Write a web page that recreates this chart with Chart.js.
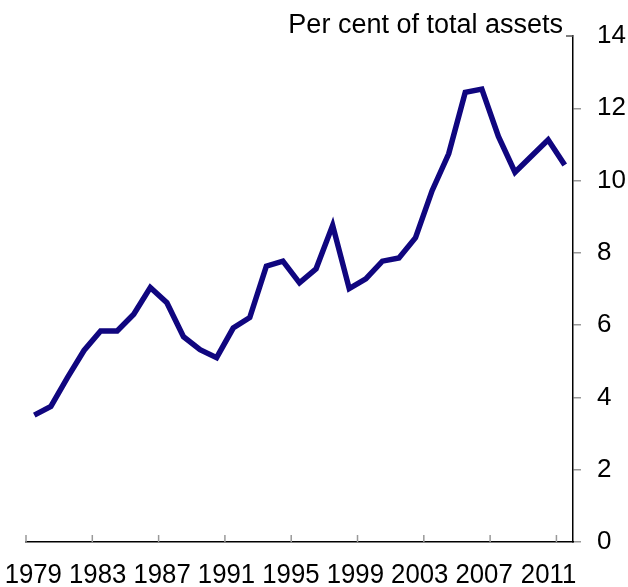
<!DOCTYPE html>
<html>
<head>
<meta charset="utf-8">
<script src="https://cdn.jsdelivr.net/npm/chart.js@4/dist/chart.umd.min.js"></script>
<style>
  html, body { margin: 0; padding: 0; background: #fff; }
  canvas { display: block; }
</style>
</head>
<body>
<canvas id="assetsChart" width="628" height="587"></canvas>
<script>
const years = ['1979', '1980', '1981', '1982', '1983', '1984', '1985', '1986', '1987', '1988', '1989',
  '1990', '1991', '1992', '1993', '1994', '1995', '1996', '1997', '1998', '1999', '2000',
  '2001', '2002', '2003', '2004', '2005', '2006', '2007', '2008', '2009', '2010', '2011'];
const shareOfAssets = [3.51, 3.75, 4.55, 5.30, 5.84, 5.84, 6.30, 7.04, 6.62, 5.68, 5.32,
  5.10, 5.92, 6.21, 7.63, 7.77, 7.17, 7.56, 8.76, 7.01, 7.28, 7.77,
  7.86, 8.42, 9.72, 10.74, 12.44, 12.53, 11.22, 10.23, 10.68, 11.13, 10.43];
const xTickLabels = ['1979', '1983', '1987', '1991', '1995', '1999', '2003', '2007', '2011'];
const yTicks = [0, 2, 4, 6, 8, 10, 12, 14];
const unitLabel = 'Per cent of total assets';

// title over the plot, plus the inward x ticks and the squeezed year labels
const extras = {
  id: 'extras',
  afterDraw(chart) {
    const { ctx, chartArea } = chart;
    const xs = chart.scales.x;
    const half = (xs.getPixelForTick(1) - xs.getPixelForTick(0)) / 2;
    ctx.save();
    ctx.font = '27px "Liberation Sans", Arial, sans-serif';
    ctx.fillStyle = '#000';
    ctx.textAlign = 'right';
    ctx.textBaseline = 'alphabetic';
    ctx.fillText(unitLabel, chartArea.right - 10, 33);

    // small tick at the top of the value axis points inward
    ctx.strokeStyle = '#555';
    ctx.lineWidth = 1.5;
    ctx.beginPath();
    ctx.moveTo(chartArea.right - 7, chartArea.top);
    ctx.lineTo(chartArea.right, chartArea.top);
    ctx.stroke();

    ctx.strokeStyle = '#999';
    ctx.font = '28px "Liberation Sans", Arial, sans-serif';
    ctx.textAlign = 'center';
    let k = 0;
    years.forEach((yr, i) => {
      if (!xTickLabels.includes(yr)) return;
      const x = xs.getPixelForTick(i);
      ctx.beginPath();
      ctx.moveTo(x - half, chartArea.bottom);
      ctx.lineTo(x - half, chartArea.bottom - 7);
      ctx.stroke();
      // labels sit a little tighter than the ticks, as in the original
      ctx.save();
      ctx.translate(x - 1 - 1.9 * k, 583);
      ctx.scale(0.92, 1);
      ctx.fillText(yr, 0, 0);
      ctx.restore();
      k += 1;
    });
    ctx.restore();
  },
};

const ctx = document.getElementById('assetsChart').getContext('2d');
const chart = new Chart(ctx, {
  type: 'line',
  data: {
    labels: years,
    datasets: [{
      label: unitLabel,
      data: shareOfAssets,
      borderColor: '#10067f',
      borderWidth: 5.5,
      pointRadius: 0,
      tension: 0,
      fill: false,
    }],
  },
  options: {
    responsive: false,
    animation: false,
    layout: { padding: { left: 26, top: 36, right: 0, bottom: 0 } },
    plugins: {
      legend: { display: false },
      tooltip: { enabled: false },
    },
    scales: {
      x: {
        offset: true,
        afterFit: (scale) => { scale.height = 45; },
        border: { color: '#000', width: 1.5 },
        grid: {
          offset: true,
          drawOnChartArea: false,
          drawTicks: false,
          color: 'rgba(0,0,0,0)',
        },
        ticks: {
          autoSkip: false,
          maxRotation: 0,
          minRotation: 0,
          padding: 0,
          color: 'rgba(0,0,0,0)',
          font: { family: '"Liberation Sans", Arial, sans-serif', size: 20 },
          callback: (value, i) => (xTickLabels.includes(years[i]) ? years[i] : ''),
        },
      },
      y: {
        position: 'right',
        min: 0,
        max: 14,
        afterFit: (scale) => { scale.width = 55; },
        afterBuildTicks: (scale) => { scale.ticks = yTicks.map((v) => ({ value: v })); },
        border: { color: '#000', width: 1.5 },
        grid: {
          drawOnChartArea: false,
          tickLength: 8,
          color: (c) => (c.tick && c.tick.value === 14 ? 'rgba(0,0,0,0)' : '#999'),
          lineWidth: 1.5,
        },
        ticks: {
          padding: 16,
          color: '#000',
          font: { family: '"Liberation Sans", Arial, sans-serif', size: 26 },
        },
      },
    },
  },
  plugins: [extras],
});
</script>
</body>
</html>
